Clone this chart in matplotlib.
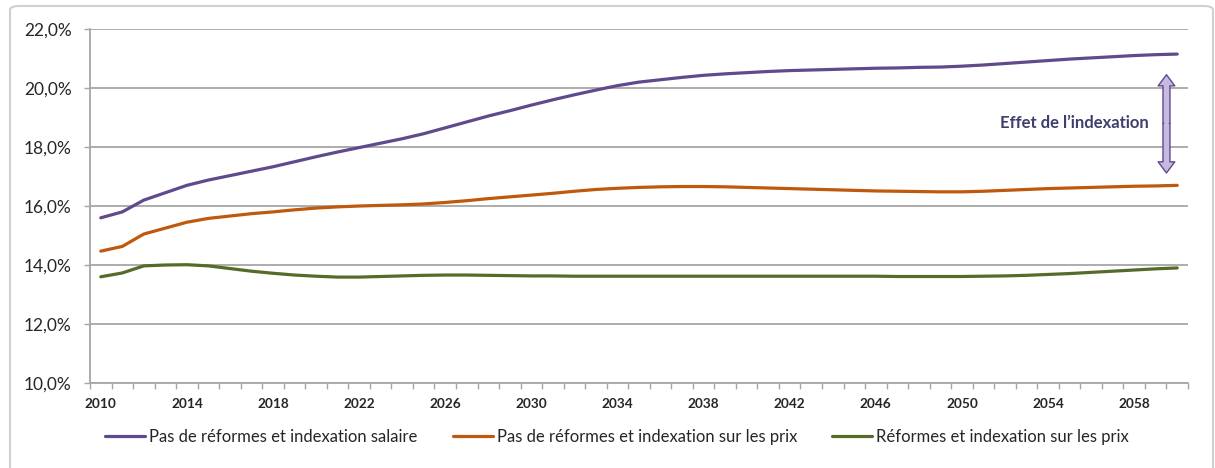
import matplotlib
matplotlib.use("Agg")
import matplotlib.pyplot as plt
from matplotlib.patches import FancyBboxPatch
from matplotlib.ticker import FixedLocator, FuncFormatter

years = list(range(2010, 2061))

pas_reforme_salaire = [15.60, 15.80, 16.20, 16.45, 16.70, 16.88, 17.03, 17.18, 17.33, 17.50,
                       17.67, 17.83, 17.98, 18.13, 18.28, 18.45, 18.65, 18.85, 19.05, 19.23,
                       19.42, 19.60, 19.77, 19.93, 20.08, 20.20, 20.28, 20.36, 20.43, 20.48,
                       20.52, 20.56, 20.59, 20.61, 20.63, 20.65, 20.67, 20.68, 20.70, 20.71,
                       20.74, 20.78, 20.83, 20.88, 20.93, 20.98, 21.02, 21.06, 21.10, 21.13,
                       21.15]

pas_reforme_prix = [14.47, 14.63, 15.05, 15.25, 15.45, 15.58, 15.66, 15.74, 15.80, 15.87,
                    15.93, 15.97, 16.00, 16.02, 16.04, 16.07, 16.12, 16.18, 16.25, 16.31,
                    16.37, 16.43, 16.50, 16.56, 16.60, 16.63, 16.65, 16.66, 16.66, 16.65,
                    16.63, 16.61, 16.59, 16.57, 16.55, 16.53, 16.51, 16.50, 16.49, 16.48,
                    16.48, 16.50, 16.53, 16.56, 16.59, 16.61, 16.63, 16.65, 16.67, 16.68,
                    16.70]

reforme_prix = [13.60, 13.73, 13.97, 14.00, 14.01, 13.97, 13.88, 13.79, 13.72, 13.66,
                13.62, 13.59, 13.59, 13.61, 13.63, 13.65, 13.66, 13.66, 13.65, 13.64,
                13.63, 13.63, 13.62, 13.62, 13.62, 13.62, 13.62, 13.62, 13.62, 13.62,
                13.62, 13.62, 13.62, 13.62, 13.62, 13.62, 13.62, 13.61, 13.61, 13.61,
                13.61, 13.62, 13.63, 13.65, 13.68, 13.71, 13.75, 13.79, 13.83, 13.87,
                13.90]

series_labels = ["Pas de réformes et indexation salaire",
                 "Pas de réformes et indexation sur les prix",
                 "Réformes et indexation sur les prix"]
series_colors = ["#5f4a8b", "#c0590b", "#566a2a"]
y_ticks = [10, 12, 14, 16, 18, 20, 22]
x_label_years = list(range(2010, 2061, 4))
annotation_text = "Effet de l’indexation"

plt.rcParams['font.family'] = ['Lato', 'DejaVu Sans']

fig = plt.figure(figsize=(12.15, 4.68), dpi=100)
ax = fig.add_axes([90 / 1215, 1 - 383 / 468, (1188 - 90) / 1215, (383 - 29) / 468])

idx = list(range(len(years)))
for vals, lab, col in zip([pas_reforme_salaire, pas_reforme_prix, reforme_prix],
                          series_labels, series_colors):
    ax.plot(idx, vals, color=col, lw=2.3, label=lab, solid_capstyle='round')

ax.set_xlim(-0.5, len(years) - 0.5)
ax.set_ylim(10, 22)
ax.set_yticks(y_ticks)
ax.yaxis.set_major_formatter(FuncFormatter(lambda v, p: f"{v:.1f}%".replace('.', ',')))
ax.grid(axis='y', color='#a6a6a6', lw=1.3)
ax.set_axisbelow(True)

ax.set_xticks([years.index(y) for y in x_label_years])
ax.set_xticklabels([str(y) for y in x_label_years])
ax.xaxis.set_minor_locator(FixedLocator([i - 0.5 for i in range(len(years) + 1)]))
ax.tick_params(axis='x', which='major', length=0, pad=11, labelsize=9.8, labelcolor='#262626')
ax.tick_params(axis='x', which='minor', length=4, width=1, color='#a6a6a6', direction='out')
ax.tick_params(axis='y', length=4.3, width=1, color='#a6a6a6', pad=9, labelsize=12.5, labelcolor='#262626')
for lab in ax.get_xticklabels():
    lab.set_fontweight('bold')

for s in ['top', 'right']:
    ax.spines[s].set_visible(False)
for s in ['left', 'bottom']:
    ax.spines[s].set_color('#a6a6a6')
    ax.spines[s].set_linewidth(1.3)

# double arrow "Effet de l'indexation"
ax_x = 49.5
mid = 18.8
for yend in (20.45, 17.12):
    ax.annotate('', xy=(ax_x, yend), xytext=(ax_x, mid),
                arrowprops=dict(arrowstyle='simple,head_length=0.8,head_width=1.2,tail_width=0.5',
                                fc='#c8b9e0', ec='#5f4a8b', lw=1.0, shrinkA=0, shrinkB=0,
                                mutation_scale=10))
ax.plot([ax_x, ax_x], [mid - 0.6, mid + 0.6], color='#c8b9e0', lw=3.3, solid_capstyle='butt', zorder=5)
ax.text(45.2, 18.81, annotation_text, ha='center', va='center', fontsize=12,
        fontweight='bold', color='#3f3f6e')

leg = fig.legend(loc='center', bbox_to_anchor=(0.508, 1 - 437 / 468), ncol=3, frameon=False,
                 fontsize=12, handlelength=2.4, handletextpad=0.25, columnspacing=2.1)
for t in leg.get_texts():
    t.set_color('#262626')

frame = FancyBboxPatch((10 / 1215, -0.05), (1213 - 10) / 1215, 1 - 6 / 468 + 0.05,
                       boxstyle='round,pad=0,rounding_size=0.008', transform=fig.transFigure,
                       fc='none', ec='#d0d0d0', lw=1.5)
fig.patches.append(frame)

fig.savefig('out.png', dpi=100)
